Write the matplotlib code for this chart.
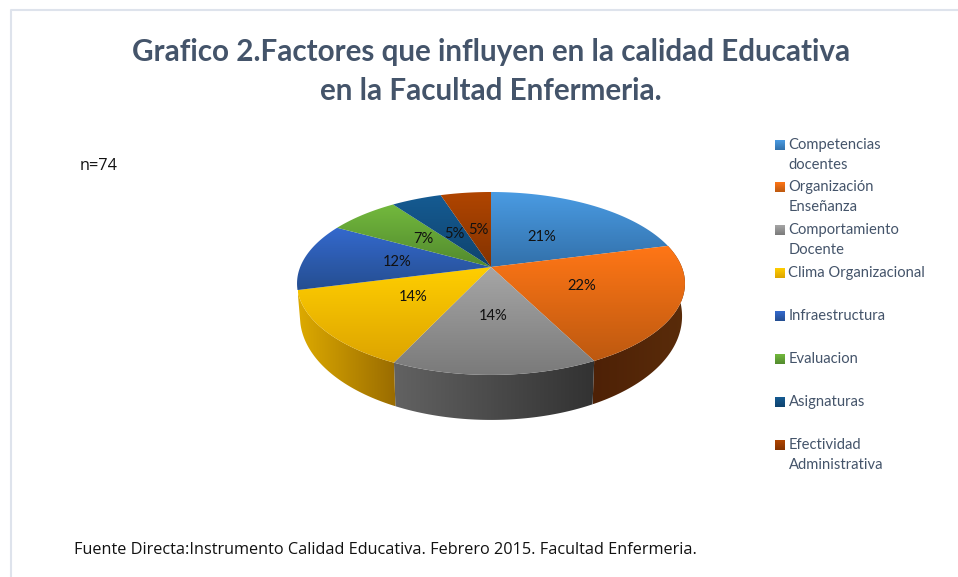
import numpy as np
import matplotlib
matplotlib.use('Agg')
import matplotlib.pyplot as plt
from matplotlib.colors import LinearSegmentedColormap
from matplotlib.patches import PathPatch
from matplotlib.path import Path

plt.rcParams['font.family'] = ['Lato', 'DejaVu Sans']

labels = ['Competencias\ndocentes', 'Organización\nEnseñanza', 'Comportamiento\nDocente',
          'Clima Organizacional', 'Infraestructura', 'Evaluacion', 'Asignaturas',
          'Efectividad\nAdministrativa']
values = [21.0, 21.5, 14.5, 14.0, 12.0, 7.0, 5.0, 5.0]
top_light = ['#4A9BE2', '#FF7616', '#A6A6A6', '#FFCE00', '#3469CE', '#73B93D', '#155B92', '#B04500']
top_dark = ['#3270AA', '#BD5910', '#7A7A7A', '#DDA400', '#254E90', '#528A2E', '#0F436E', '#843300']
side_left = ['#2C5F90', '#4E2106', '#626262', '#DDAA00', '#22467F', '#4A7A2A', '#0D3A60', '#702B00']
side_right = ['#2C5F90', '#5A2C0A', '#323232', '#9A6C00', '#22467F', '#4A7A2A', '#0D3A60', '#702B00']
legend_y = [145, 187, 230, 273, 316, 359, 402, 445]
label_r = [0.46, 0.5, 0.5, 0.5, 0.5, 0.5, 0.45, 0.46]

cx, cy = 491, 267
A, B, k = 190.8, 88.5, 0.18


def project(theta, r=1.0):
    u, v = r * np.sin(theta), r * np.cos(theta)
    den = 1 + k * v
    return cx + A * u / den, cy - B * v / den


def bottom(theta):
    x, y = project(theta)
    depth = 30 - 15 * np.cos(theta)
    return cx + (x - cx) * 0.985, y + depth


def gradient_patch(ax, xy, c1, c2, horizontal=False, zorder=3):
    cmap = LinearSegmentedColormap.from_list('g', [c1, c2])
    ramp = np.linspace(0, 1, 128).reshape(-1, 1)
    if horizontal:
        ramp = ramp.T
    x0, x1 = xy[:, 0].min(), xy[:, 0].max()
    y0, y1 = xy[:, 1].min(), xy[:, 1].max()
    im = ax.imshow(ramp, cmap=cmap, aspect='auto', extent=(x0, x1, y1, y0), origin='upper',
                   zorder=zorder, interpolation='bilinear')
    patch = PathPatch(Path(np.vstack([xy, xy[0]]), closed=True), transform=ax.transData,
                      fc='none', ec='none')
    ax.add_patch(patch)
    im.set_clip_path(patch)


fig = plt.figure(figsize=(9.58, 5.77), dpi=100)
ax = fig.add_axes([0, 0, 1, 1])

fractions = np.array(values) / sum(values)
edges = np.concatenate([[0], np.cumsum(fractions)]) * 2 * np.pi

# side wall, only the orange, grey and yellow slices show it
for i in [1, 2, 3]:
    th = np.linspace(edges[i], edges[i + 1], 120)
    xt, yt = project(th)
    xb, yb = bottom(th)
    xy = np.vstack([np.column_stack([xt, yt]), np.column_stack([xb, yb])[::-1]])
    gradient_patch(ax, xy, side_left[i], side_right[i], horizontal=True, zorder=2)

# top of the pie
for i in range(len(values)):
    th = np.linspace(edges[i], edges[i + 1], 80)
    x, y = project(th)
    xy = np.vstack([[cx, cy], np.column_stack([x, y])])
    gradient_patch(ax, xy, top_light[i], top_dark[i])
    mid = (edges[i] + edges[i + 1]) / 2
    lx, ly = project(mid, label_r[i])
    ax.text(lx, ly, f'{values[i]:.0f}%', ha='center', va='center', fontsize=10.6,
            color='#111111', zorder=5)

# legend
for i, name in enumerate(labels):
    y = legend_y[i]
    gradient_patch(ax, np.array([[775.0, y - 5], [785.0, y - 5], [785.0, y + 5], [775.0, y + 5]]),
                   top_light[i], top_dark[i])
    parts = name.split('\n')
    ax.text(788.5, y, parts[0], ha='left', va='center', fontsize=10.65, color='#44546A', zorder=5)
    if len(parts) > 1:
        ax.text(788.5, y + 20, parts[1], ha='left', va='center', fontsize=10.65, color='#44546A', zorder=5)

ax.text(491, 52, 'Grafico 2.Factores que influyen en la calidad Educativa', ha='center', va='center',
        fontsize=21.3, fontweight='bold', color='#44546A')
ax.text(491, 91, 'en la Facultad Enfermeria.', ha='center', va='center',
        fontsize=21.3, fontweight='bold', color='#44546A')
ax.text(80, 166, 'n=74', ha='left', va='center', fontsize=11.7, color='#111111', family='Open Sans')
ax.text(74, 550, 'Fuente Directa:Instrumento Calidad Educativa. Febrero 2015. Facultad Enfermeria.',
        ha='left', va='center', fontsize=11.7, color='#111111', family='Open Sans')

# frame of the chart
ax.plot([11, 11, 958], [577, 10, 10], color='#DEE3EC', lw=1.5, zorder=1)

ax.set_xlim(0, 958)
ax.set_ylim(577, 0)
ax.axis('off')
fig.savefig('out.png', dpi=100)
